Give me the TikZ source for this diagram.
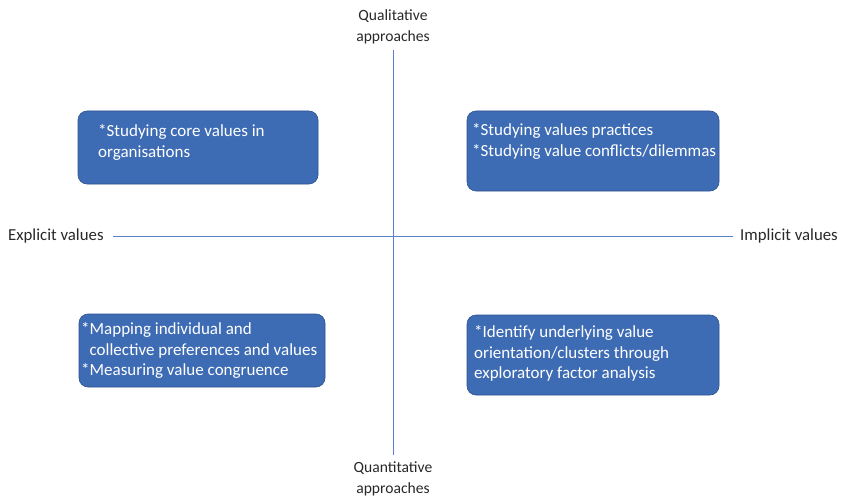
\documentclass[tikz,border=0pt]{standalone}
\usepackage{fontspec}
\setmainfont{Carlito}
\usepackage{tikz}
\usetikzlibrary{positioning}
\definecolor{boxblue}{RGB}{61,108,180}
\definecolor{boxedge}{RGB}{47,82,143}
\definecolor{axisblue}{RGB}{88,128,200}
\definecolor{labelgray}{RGB}{40,40,40}
\tikzset{
  valbox/.style={draw=boxedge, fill=boxblue, rounded corners=9pt, line width=0.6pt, inner sep=0pt},
  valtext/.style={text=white, align=left, inner sep=0pt, font=\fontsize{17}{20.6}\selectfont},
  axislabel/.style={text=labelgray, align=center, inner sep=0pt, font=\fontsize{15.6}{21}\selectfont},
  sidelabel/.style={axislabel, font=\fontsize{16.8}{21}\selectfont}
}
\tikzset{axisline/.style={draw=axisblue, line width=0.8pt}}
\begin{document}
\begin{tikzpicture}[x=1pt, y=-1pt]
      \useasboundingbox (0, 0) rectangle (842, 497);

      % axis labels
      \node[axislabel] (qual) at (393, 26.5) {Qualitative\\approaches};
      \node[axislabel] (quant) at (393, 479) {Quantitative\\approaches};
      \node[sidelabel, anchor=west] (expl) at (8, 236) {Explicit values};
      \node[sidelabel, anchor=east] (impl) at (838, 236) {Implicit values};

      % axes
      \coordinate (top) at (393, 50);
      \coordinate (bottom) at (393, 455);
      \coordinate (left) at (113, 236);
      \coordinate (right) at (733, 236);
      \draw[axisline] (top) -- (bottom);
      \draw[axisline] (left) -- (right);

      % quadrant boxes
      \node[valbox, minimum width=240, minimum height=73] (corebox) at (198, 147.5) {};
      \node[valbox, minimum width=252, minimum height=80] (practbox) at (593, 151) {};
      \node[valbox, minimum width=246, minimum height=73] (mapbox) at (202, 350.5) {};
      \node[valbox, minimum width=252, minimum height=80] (factbox) at (593, 355) {};

      \node[valtext, anchor=west] (coretext) at (98, 142.5)
        {*Studying core values in\\organisations};
      \node[valtext, anchor=west] (practtext) at (472, 141.5)
        {*Studying values practices\\*Studying value conflicts/dilemmas};
      \node[valtext, anchor=west] (maptext) at (81, 350.5)
        {*Mapping individual and\\\phantom{*}collective preferences and values\\*Measuring value congruence};
      \node[valtext, anchor=west] (facttext) at (474, 353.5)
        {*Identify underlying value\\orientation/clusters through\\exploratory factor analysis};
\end{tikzpicture}
\end{document}
